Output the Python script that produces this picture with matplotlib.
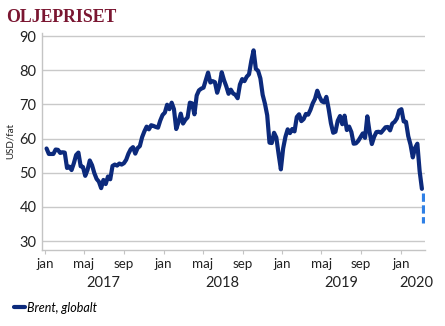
import matplotlib
matplotlib.use("Agg")
import matplotlib.pyplot as plt
import matplotlib.transforms as mtransforms
import pandas as pd

# Brent, weekly (Friday) close, USD per barrel, Jan 2017 - Mar 2020
brent_2017 = [57.1, 55.5, 55.5, 55.5,
              56.8, 56.7, 55.8, 56.0,
              55.9, 51.4, 51.8, 50.8, 52.8,
              55.2, 55.9, 51.9, 51.7,
              49.1, 50.8, 53.6, 52.2,
              49.9, 48.2, 47.4, 45.5, 47.9,
              46.7, 48.9, 48.1, 52.0,
              52.4, 52.1, 52.7, 52.4,
              52.8, 53.8, 55.6, 56.9, 57.5,
              55.6, 57.2, 57.8, 60.4,
              62.1, 63.5, 62.7, 63.9,
              63.7, 63.4, 63.2, 65.3, 66.9]
brent_2018 = [67.6, 69.9, 68.6, 70.5,
              68.6, 62.8, 64.8, 67.3,
              64.4, 65.5, 66.2, 70.5, 70.3,
              67.1, 72.6, 74.1, 74.6,
              74.9, 77.1, 79.3, 76.4,
              76.8, 76.5, 73.4, 75.6, 79.4,
              77.1, 75.3, 73.1, 74.3,
              73.2, 72.8, 71.8, 75.8, 77.4,
              76.8, 78.1, 78.8, 82.7,
              85.8, 80.4, 79.8, 77.6,
              72.8, 70.2, 66.8, 58.8, 58.7,
              61.7, 60.3, 55.5, 51.0]
brent_2019 = [57.1, 60.5, 62.7, 61.6,
              62.8, 62.1, 66.3, 67.1,
              65.1, 65.7, 67.2, 67.0, 68.4,
              70.3, 71.6, 74.0, 72.2,
              70.9, 70.6, 72.2, 68.7, 64.5,
              61.7, 62.0, 65.2, 66.6,
              64.2, 66.7, 62.5, 63.5,
              61.9, 58.5, 58.6, 59.3, 60.4,
              61.5, 60.2, 66.5, 61.9,
              58.4, 60.5, 61.9, 62.0,
              61.7, 62.5, 63.3, 63.4, 62.4,
              64.4, 64.9, 65.9, 68.2]
brent_2020 = [68.6, 65.0, 64.9, 60.7, 58.2,
              54.5, 57.3, 58.5, 50.5,
              45.3]
brent = brent_2017 + brent_2018 + brent_2019 + brent_2020
dates = pd.date_range("2017-01-06", periods=len(brent), freq="W-FRI")

# latest move shown dashed
latest_dates = ["2020-03-08", "2020-03-08"]
latest_values = [44.2, 35.2]

month_ticks = ["2017-01-01", "2017-05-01", "2017-09-01",
               "2018-01-01", "2018-05-01", "2018-09-01",
               "2019-01-01", "2019-05-01", "2019-09-01",
               "2020-01-01"]
month_labels = ["jan", "maj", "sep"] * 3 + ["jan"]
year_positions = ["2017-07-01", "2018-07-01", "2019-07-01", "2020-02-18"]
year_labels = ["2017", "2018", "2019", "2020"]

NAVY = "#0c2a7c"
GRID = "#c9c9c9"
FONT = "Lato"

fig = plt.figure(figsize=(4.45, 3.26), dpi=100)
ax = fig.add_axes([0.0944, 0.233, 0.861, 0.666])

ax.plot(dates, brent, color=NAVY, linewidth=3.0, solid_joinstyle="round",
        solid_capstyle="round", label="Brent, globalt")
ax.plot(pd.to_datetime(latest_dates), latest_values, color="#2f80e6",
        linewidth=2.3, linestyle=(0, (2.6, 1.1)))

ax.set_ylim(27.4, 90.9)
ax.set_xlim(pd.Timestamp("2016-12-23"), pd.Timestamp("2020-03-16"))
ax.set_yticks([30, 40, 50, 60, 70, 80, 90])
ax.yaxis.grid(True, color=GRID, linewidth=1.0)
ax.set_axisbelow(True)

for side in ["top", "right"]:
    ax.spines[side].set_visible(False)
for side in ["left", "bottom"]:
    ax.spines[side].set_color("#c4c4c4")
    ax.spines[side].set_linewidth(1.0)

ax.set_xticks(pd.to_datetime(month_ticks))
ax.set_xticklabels(month_labels, fontfamily=FONT, fontsize=9.6, color="#222222")
ax.tick_params(axis="x", length=3, color="#c4c4c4", pad=3)
ax.tick_params(axis="y", length=0, pad=4, labelsize=10.5, labelcolor="#222222")
for lbl in ax.get_yticklabels():
    lbl.set_fontfamily(FONT)

trans = mtransforms.blended_transform_factory(ax.transData, fig.transFigure)
for pos, lbl in zip(year_positions, year_labels):
    ax.text(pd.Timestamp(pos), 1 - 283 / 326, lbl, transform=trans,
            ha="center", va="center", fontsize=10.5, fontfamily=FONT,
            color="#222222")

ax.set_ylabel("USD/fat", fontsize=7, fontfamily=FONT, color="#222222",
              labelpad=3)

fig.text(6 / 445, 1 - 17 / 326, "OLJEPRISET", fontsize=12.8, fontweight="bold",
         fontfamily="Liberation Serif", color="#7a1631", va="center")

fig.legend(loc="lower left", bbox_to_anchor=(0.015, 0.015), frameon=False,
           handlelength=0.9, handletextpad=0.15, borderaxespad=0.2,
           prop={"family": FONT, "style": "italic", "size": 9})

fig.savefig("out.png", dpi=100)
